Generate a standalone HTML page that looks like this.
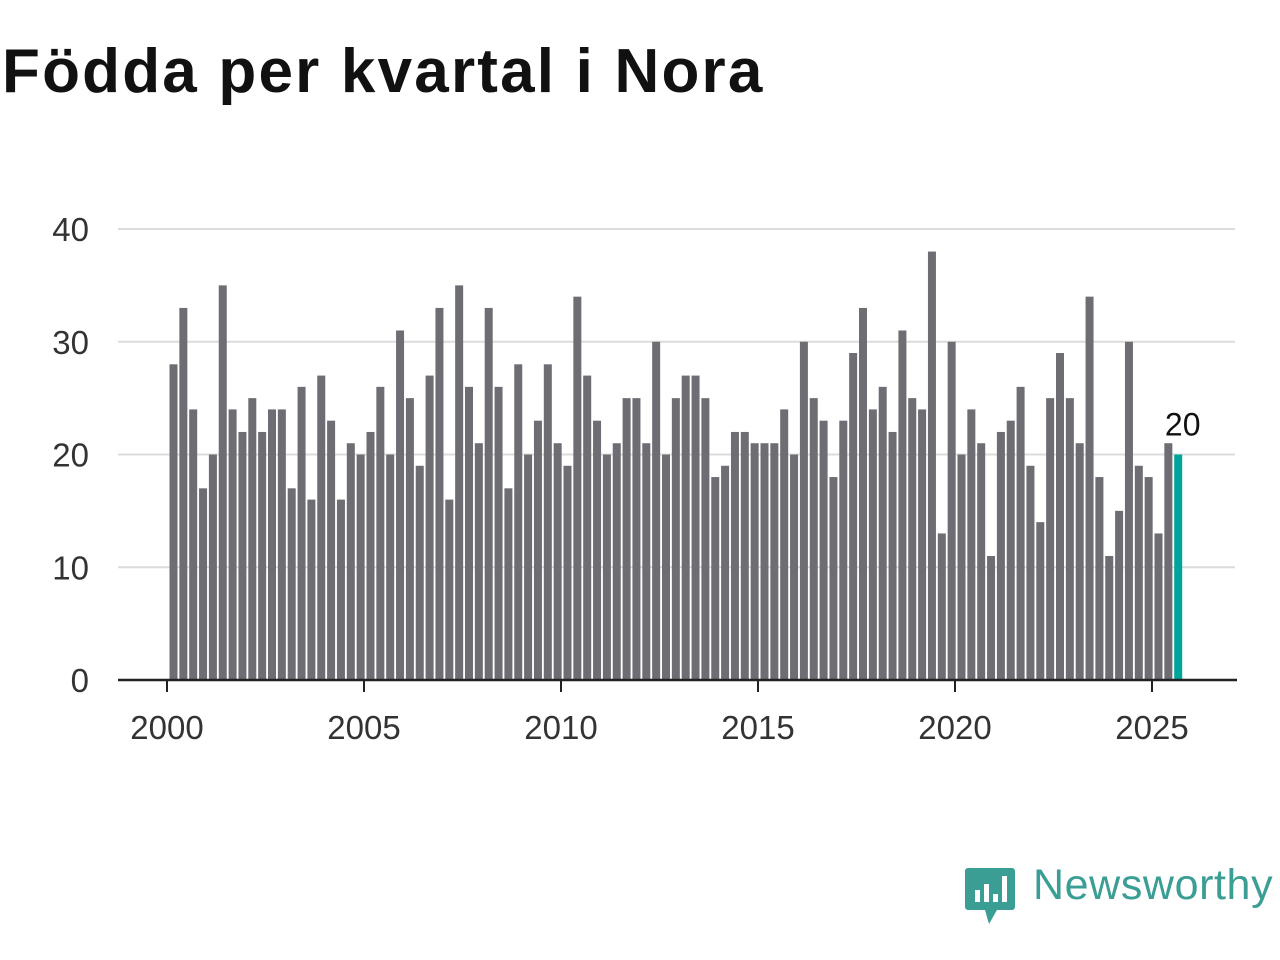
<!DOCTYPE html>
<html><head><meta charset="utf-8"><style>
body{margin:0;width:1280px;height:960px;background:#fff;overflow:hidden;font-family:"Liberation Sans",sans-serif}
h1{position:absolute;left:2px;top:36px;margin:0;font-size:62px;font-weight:bold;color:#111;letter-spacing:2.2px;white-space:nowrap}
</style></head><body>
<h1>Födda per kvartal i Nora</h1>
<svg id="chart" width="1280" height="960" style="position:absolute;left:0;top:0"></svg>
<script>
const years=[2000,2005,2010,2015,2020,2025];
const yTicks=[0,10,20,30,40];
const startYear=2000;
const values=[28,33,24,17,20,35,24,22,25,22,
24,24,17,26,16,27,23,16,21,20,
22,26,20,31,25,19,27,33,16,35,
26,21,33,26,17,28,20,23,28,21,
19,34,27,23,20,21,25,25,21,30,
20,25,27,27,25,18,19,22,22,21,
21,21,24,20,30,25,23,18,23,29,
33,24,26,22,31,25,24,38,13,30,
20,24,21,11,22,23,26,19,14,25,
29,25,21,34,18,11,15,30,19,18,
13,21,20];
const NS='http://www.w3.org/2000/svg';
const svg=document.getElementById('chart');
const x=t=>167+(t-2000)*39.4;
const y=v=>680-v*11.275;
function mk(tag,attrs,parent){const e=document.createElementNS(NS,tag);for(const k in attrs)e.setAttribute(k,attrs[k]);(parent||svg).appendChild(e);return e;}
yTicks.forEach(v=>{
  if(v>0){const g=mk('line',{x1:118,x2:1235,y1:y(v),y2:y(v),stroke:'#dcdcdc','stroke-width':2});
  
  }
  const t=mk('text',{x:89,y:y(v)+12,'text-anchor':'end','font-size':33,fill:'#333','font-family':'Liberation Sans, sans-serif'});
  t.textContent=v;
  
  
});
values.forEach((v,i)=>{
  const t=startYear+i/4;
  const last=i===values.length-1;
  const r=mk('rect',{x:x(t)+2.5,y:y(v),width:8,height:y(0)-y(v),fill:last?'#00a599':'#6e6d73'});
  
  
  if(last){const l=mk('text',{x:x(t)+11,y:y(v)-19,'text-anchor':'middle','font-size':32,fill:'#111','font-family':'Liberation Sans, sans-serif'});
  l.textContent=v;
  
  }
});
const ax=mk('line',{x1:118,x2:1237,y1:680,y2:680,stroke:'#222','stroke-width':2.5});


years.forEach(yr=>{
  const tk=mk('line',{x1:x(yr),x2:x(yr),y1:680,y2:692,stroke:'#222','stroke-width':2});
  
  
  const t=mk('text',{x:x(yr),y:739,'text-anchor':'middle','font-size':33,fill:'#333','font-family':'Liberation Sans, sans-serif'});
  t.textContent=yr;
  
  
});
</script>
<div style="position:absolute;left:965px;top:866px;">
<svg width="52" height="60"><path d="M3 2h44a3 3 0 0 1 3 3v36a3 3 0 0 1-3 3H32l-8 14l-4-14H3a3 3 0 0 1-3-3V5a3 3 0 0 1 3-3z" fill="#3a9e94"/><rect x="10" y="24" width="5" height="12" fill="#fff"/><rect x="19" y="18" width="5" height="18" fill="#fff"/><rect x="28" y="28" width="5" height="8" fill="#fff"/><rect x="37" y="10" width="5" height="26" fill="#fff"/></svg>
<span style="position:absolute;left:68px;top:-5px;font-size:43px;color:#3a9e94;white-space:nowrap;letter-spacing:0.6px">Newsworthy</span>
</div>
</body></html>
